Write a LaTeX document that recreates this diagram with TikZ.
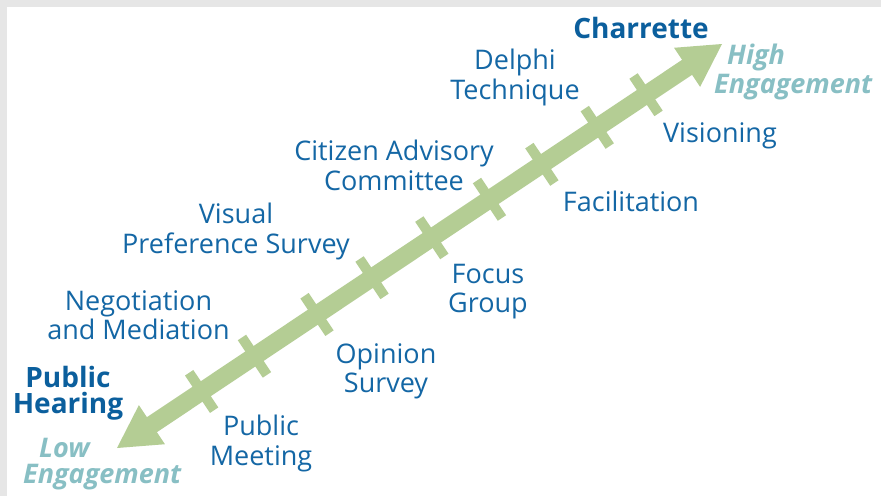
\documentclass[tikz,border=0pt]{standalone}
\usepackage{fontspec}
\setmainfont{Open Sans}
\usetikzlibrary{calc}
\definecolor{txtblue}{HTML}{1467A5}
\definecolor{boldblue}{HTML}{0B5F9D}
\definecolor{engteal}{HTML}{88BFC4}
\definecolor{arrowgreen}{HTML}{B4CD94}
\definecolor{framegray}{HTML}{E6E6E6}
\begin{document}
\begin{tikzpicture}[x=1pt,y=-1pt,
  lbl/.style={text=txtblue, font=\fontsize{27}{29.5}\selectfont, align=center, inner sep=0pt, anchor=north},
  boldlbl/.style={text=boldblue, font=\bfseries\fontsize{28}{26.5}\selectfont, align=center, inner sep=0pt, anchor=north},
  englbl/.style={text=engteal, font=\bfseries\itshape\fontsize{27}{28}\selectfont, align=left, inner sep=0pt, anchor=north west},
  tickbar/.style={draw=arrowgreen, line width=10pt},
]
\useasboundingbox (0,0) rectangle (881,496);
\fill[framegray] (0,0) rectangle (881,496);
\fill[white] (7,7) rectangle (881,496);
% arrow
\coordinate (A) at (117,448);
\coordinate (B) at (722,44);
\coordinate (Abase) at ($(A)!42pt!(B)$);
\coordinate (Bbase) at ($(B)!42pt!(A)$);
\draw[arrowgreen, line width=18pt] ($(A)!38pt!(B)$) -- ($(B)!38pt!(A)$);
\fill[arrowgreen] (A) -- ($(Abase)!23.5pt!90:(B)$) -- ($(Abase)!23.5pt!-90:(B)$) -- cycle;
\fill[arrowgreen] (B) -- ($(Bbase)!23.5pt!90:(A)$) -- ($(Bbase)!23.5pt!-90:(A)$) -- cycle;
\foreach \dd [count=\i] in {101.8,165.3,240.5,306.7,378.6,447.9,510.9,577.5,636.2} {
  \coordinate (t\i) at ($(A)!\dd pt!(B)$);
  \draw[tickbar] ($(t\i)!22.5pt!90:(B)$) -- ($(t\i)!22.5pt!-90:(B)$);
}
% labels
\node[boldlbl, font=\bfseries\fontsize{28}{28}\selectfont] (charrette) at (641,17) {Charrette};
\node[englbl, font=\bfseries\itshape\fontsize{27}{29}\selectfont] (high) at (714,44) {\hspace{13pt}High\\Engagement};
\node[lbl] (delphi) at (515,49) {Delphi\\Technique};
\node[lbl] (vision) at (720,122) {Visioning};
\node[lbl] (cac) at (394,140) {Citizen Advisory\\Committee};
\node[lbl] (facil) at (631,191) {Facilitation};
\node[lbl] (vps) at (236,203) {Visual\\Preference Survey};
\node[lbl] (focus) at (488,264) {Focus\\Group};
\node[lbl] (neg) at (138.5,290) {Negotiation\\and Mediation};
\node[lbl] (opin) at (386,343) {Opinion\\Survey};
\node[boldlbl] (phear) at (68,366) {Public\\Hearing};
\node[lbl] (pmeet) at (261,415) {Public\\Meeting};
\node[englbl, font=\bfseries\itshape\fontsize{27}{26}\selectfont] (low) at (23,438) {\hspace{16pt}Low\\Engagement};
\end{tikzpicture}
\end{document}
